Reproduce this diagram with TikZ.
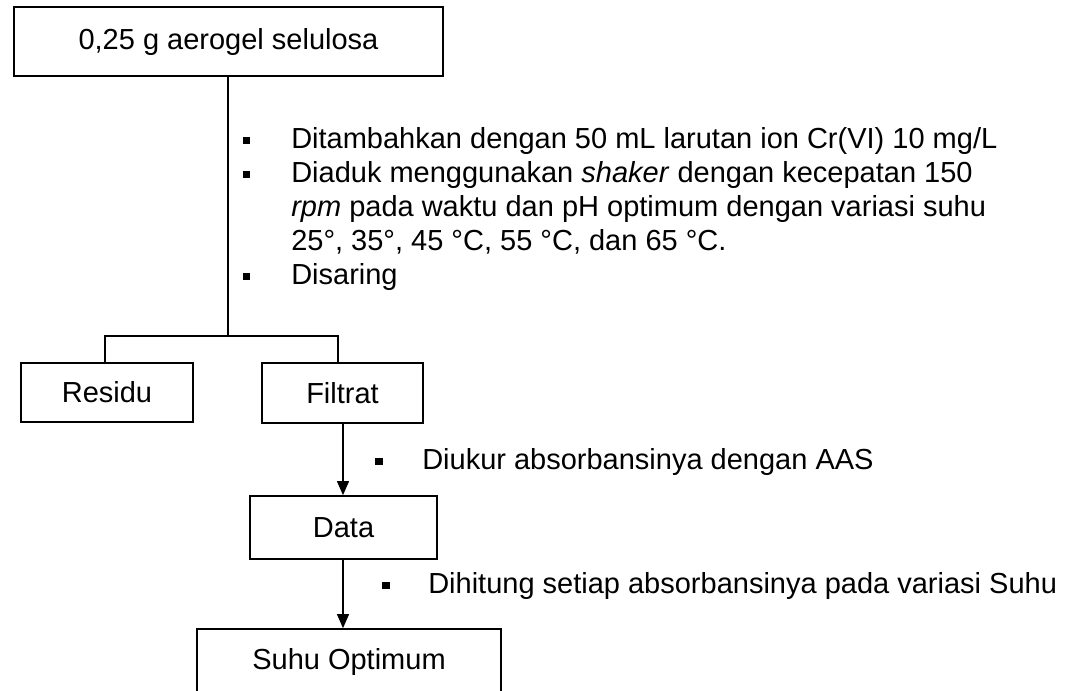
\documentclass[tikz,border=0pt]{standalone}
\usepackage{fontspec}
\setmainfont{Liberation Sans}
\usetikzlibrary{arrows.meta}
\begin{document}
\begin{tikzpicture}[x=0.75pt,y=-0.75pt,
  every node/.style={font=\fontsize{21.75}{25.5}\selectfont},
  box/.style={draw,line width=1.3pt,inner sep=0pt,anchor=center},
  txt/.style={anchor=base west,inner sep=0pt},
  bul/.style={fill,inner sep=0pt,minimum size=5.8pt,anchor=center},
  con/.style={line width=0.8pt},
  arr/.style={line width=0.8pt,-{Triangle[width=9pt,length=10.5pt]}}]
\useasboundingbox (0,0) rectangle (1070,690);
% boxes
\node[box,minimum width=429*0.75pt,minimum height=69*0.75pt] (top) at (228.5,41.5) {0,25 g aerogel selulosa};
\node[box,minimum width=172*0.75pt,minimum height=59*0.75pt] (res) at (107,392.5) {Residu};
\node[box,minimum width=161*0.75pt,minimum height=60*0.75pt] (fil) at (342.5,393) {Filtrat};
\node[box,minimum width=187*0.75pt,minimum height=63*0.75pt] (dat) at (343.5,527.5) {Data};
\node[box,minimum width=304*0.75pt,minimum height=66*0.75pt] (suh) at (349,662) {Suhu Optimum};
% branch
\coordinate (j) at (228,336);
\coordinate (jl) at (105,336);
\coordinate (jr) at (338,336);
\coordinate (ax) at (343,0);
\draw[con] (top.south -| j) -- (j);
\draw[con] (jl |- res.north) -- (jl) -- (jr) -- (jr |- fil.north);
\draw[arr] (fil.south -| ax) -- (dat.north -| ax);
\draw[arr] (dat.south -| ax) -- (suh.north -| ax);
% list 1
\node[bul] (b1) at (246.5,140.5) {};
\node[txt] (t1) at (291,148) {Ditambahkan dengan 50 mL larutan ion Cr(VI) 10 mg/L};
\node[bul] (b2) at (246.5,174.5) {};
\node[txt] (t2) at (291,182) {Diaduk menggunakan \textit{shaker} dengan kecepatan 150};
\node[txt] (t3) at (291,216) {\textit{rpm} pada waktu dan pH optimum dengan variasi suhu};
\node[txt] (t4) at (291,250) {25°, 35°, 45 °C, 55 °C, dan 65 °C.};
\node[bul] (b5) at (246.5,276.5) {};
\node[txt] (t5) at (291,284) {Disaring};
% list 2
\node[bul] (b6) at (379,461.5) {};
\node[txt] (t6) at (422,469) {Diukur absorbansinya dengan AAS};
\node[bul] (b7) at (386,585.5) {};
\node[txt] (t7) at (428,593) {Dihitung setiap absorbansinya pada variasi Suhu};
\end{tikzpicture}
\end{document}
